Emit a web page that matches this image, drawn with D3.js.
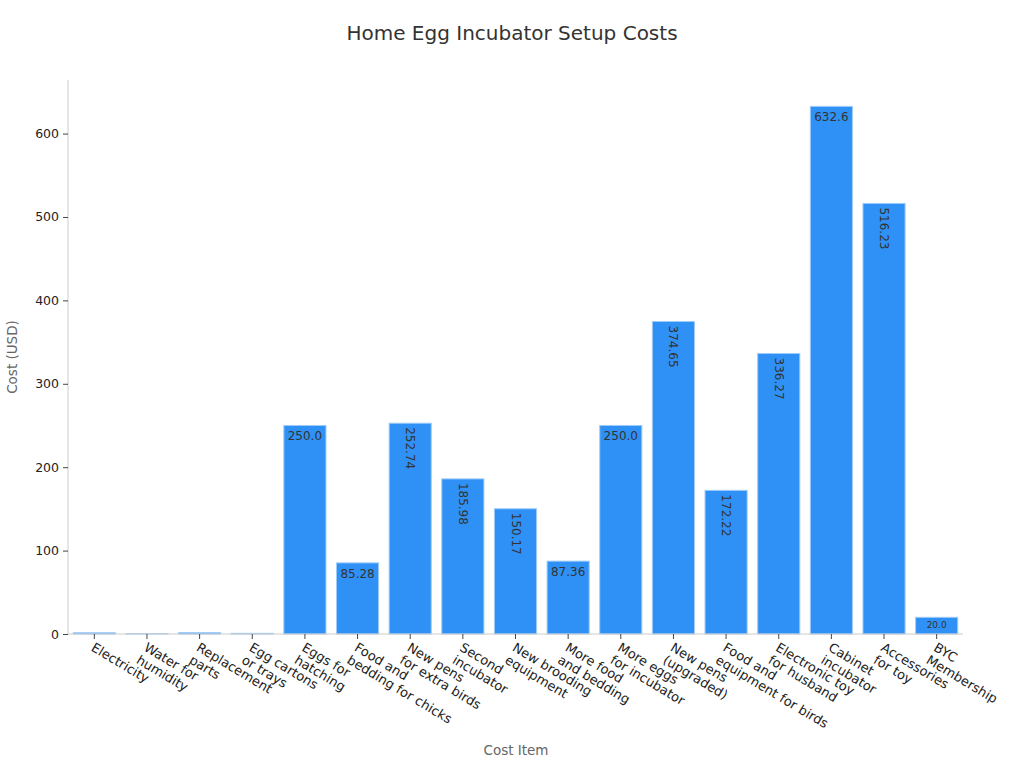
<!DOCTYPE html>
<html>
<head>
<meta charset="utf-8">
<script src="https://cdn.jsdelivr.net/npm/d3@7/dist/d3.min.js"></script>
<style>
  body { margin: 0; background: #fff; }
  svg { font-family: "DejaVu Sans", sans-serif; }
</style>
</head>
<body>
<svg id="chart" width="1024" height="768"></svg>
<script>
const categories = [
  "Electricity", "Water for humidity", "Replacement parts", "Egg cartons or trays",
  "Eggs for hatching", "Food and bedding for chicks", "New pens for extra birds",
  "Second incubator", "New brooding equipment", "More food and bedding",
  "More eggs for incubator", "New pens (upgraded)", "Food and equipment for birds",
  "Electronic toy for husband", "Cabinet incubator", "Accessories for toy", "BYC Membership"
];
const categoryLines = [
  ["Electricity"], ["Water for", "humidity"], ["Replacement", "parts"], ["Egg cartons", "or trays"],
  ["Eggs for", "hatching"], ["Food and", "bedding for chicks"], ["New pens", "for extra birds"],
  ["Second", "incubator"], ["New brooding", "equipment"], ["More food", "and bedding"],
  ["More eggs", "for incubator"], ["New pens", "(upgraded)"], ["Food and", "equipment for birds"],
  ["Electronic toy", "for husband"], ["Cabinet", "incubator"], ["Accessories", "for toy"], ["BYC", "Membership"]
];
const costs = [1.5, 0.3, 1.6, 0.8, 250.0, 85.28, 252.74, 185.98, 150.17, 87.36, 250.0, 374.65, 172.22, 336.27, 632.6, 516.23, 20.0];
const showLabel = [false, false, false, false, true, true, true, true, true, true, true, true, true, true, true, true, true];
const yTicks = [0, 100, 200, 300, 400, 500, 600];

const svg = d3.select("#chart");
const margin = { left: 68, right: 963, top: 80, bottom: 634 };

const x = d3.scaleBand().domain(categories).range([margin.left, margin.right]).paddingInner(0.2).paddingOuter(0.1);
const y = d3.scaleLinear().domain([0, d3.max(costs) * 1.05]).range([margin.bottom, margin.top]);

// title
svg.append("text").attr("x", 512).attr("y", 40).attr("text-anchor", "middle")
  .attr("font-size", 20).attr("fill", "#333").text("Home Egg Incubator Setup Costs");

// bars
const data = categories.map((c, i) => ({ c, v: costs[i], show: showLabel[i], lines: categoryLines[i] }));
svg.append("g").selectAll("rect").data(data).join("rect")
  .attr("x", d => x(d.c)).attr("width", x.bandwidth())
  .attr("y", d => y(d.v)).attr("height", d => y(0) - y(d.v))
  .attr("fill", "#2f91f5").attr("stroke", "#9fcbf8").attr("stroke-width", 1);

// y axis
const yAxis = svg.append("g").attr("transform", `translate(${margin.left},0)`)
  .call(d3.axisLeft(y).tickValues(yTicks).tickSize(5).tickPadding(4).tickFormat(d3.format("d")));
yAxis.select(".domain").attr("stroke", "#cccccc").attr("d", `M0,${margin.top}V${margin.bottom}`);
yAxis.selectAll(".tick line").attr("stroke", "#444");
yAxis.selectAll(".tick text").attr("font-size", 12.5).attr("fill", "#222").attr("font-family", "DejaVu Sans");

// x axis
const xAxis = svg.append("g").attr("transform", `translate(0,${margin.bottom})`)
  .call(d3.axisBottom(x).tickSize(5).tickFormat(""));
xAxis.select(".domain").attr("stroke", "#cccccc").attr("d", `M${margin.left},0H${margin.right}`);
xAxis.selectAll(".tick line").attr("stroke", "#444");

const xl = svg.append("g");
data.forEach(d => {
  const cx = x(d.c) + x.bandwidth() / 2;
  const t = xl.append("text")
    .attr("transform", `translate(${cx - 4},${margin.bottom + 16}) rotate(31)`)
    .attr("font-size", 13).attr("fill", "#222");
  d.lines.forEach((ln, k) => {
    t.append("tspan").attr("x", 0).attr("dy", k === 0 ? 0 : 14.5).text(ln);
  });
});

// bar labels
data.filter(d => d.show).forEach(d => {
  const cx = x(d.c) + x.bandwidth() / 2;
  const label = (Math.round(d.v * 100) % 10 === 0) ? d.v.toFixed(1) : d.v.toFixed(2);
  const h = y(0) - y(d.v);
  if (label.length <= 5 && h > 25) {
    svg.append("text").attr("x", cx).attr("y", y(d.v) + 15).attr("text-anchor", "middle")
      .attr("font-size", 12).attr("fill", "#333").text(label);
  } else if (label.length <= 5) {
    svg.append("text").attr("x", cx).attr("y", y(d.v) + 11).attr("text-anchor", "middle")
      .attr("font-size", 9).attr("fill", "#333").text(label);
  } else {
    svg.append("text").attr("transform", `translate(${cx - 4},${y(d.v) + 4}) rotate(90)`)
      .attr("text-anchor", "start").attr("font-size", 12).attr("fill", "#333").text(label);
  }
});

// axis titles
svg.append("text").attr("x", 516).attr("y", 755).attr("text-anchor", "middle")
  .attr("font-size", 13.5).attr("fill", "#666").text("Cost Item");
svg.append("text").attr("transform", "translate(17,357) rotate(-90)").attr("text-anchor", "middle")
  .attr("font-size", 13.5).attr("fill", "#666").text("Cost (USD)");
</script>
</body>
</html>
